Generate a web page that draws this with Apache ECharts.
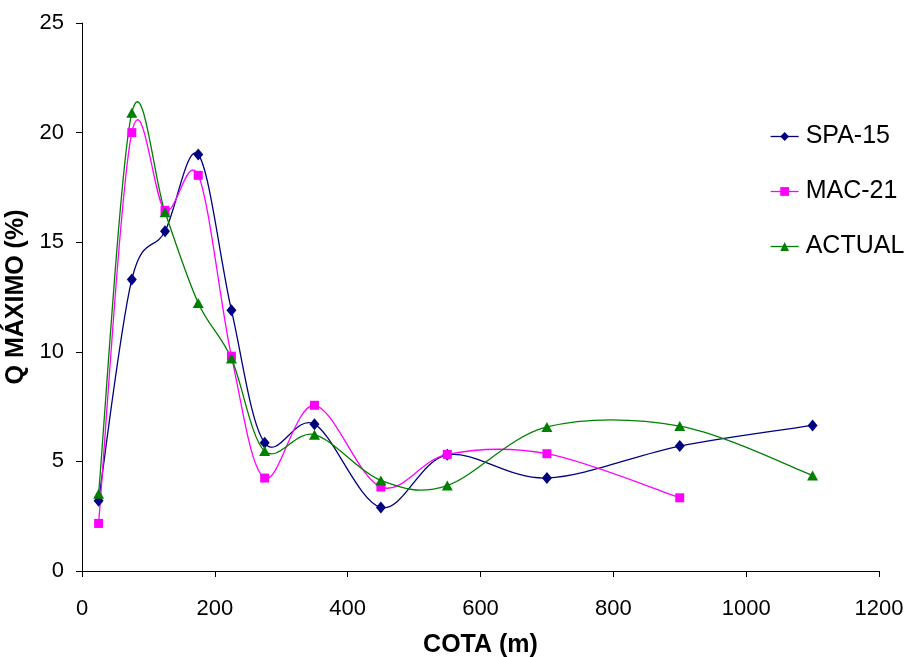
<!DOCTYPE html>
<html><head><meta charset="utf-8">
<script src="https://cdn.jsdelivr.net/npm/echarts@6/dist/echarts.min.js"></script>
<style>html,body{margin:0;padding:0;background:#fff}#c{width:907px;height:657px}</style>
</head><body><div id="c"></div>
<script>
var cota = [25, 75, 125, 175, 225, 275, 350, 450, 550, 700, 900, 1100];
var spa15 = [3.2, 13.3, 15.5, 19.0, 11.9, 5.85, 6.7, 2.9, 5.3, 4.24, 5.7, 6.64];
var mac21 = [2.17, 20.0, 16.45, 18.05, 9.8, 4.24, 7.56, 3.83, 5.32, 5.35, 3.34];
var actual = [3.52, 20.9, 16.37, 12.23, 9.69, 5.47, 6.22, 4.13, 3.9, 6.57, 6.61, 4.36];
var seriesNames = ['SPA-15', 'MAC-21', 'ACTUAL'];
var colors = ['#000080', '#FF00FF', '#008000'];
var symbols = ['diamond', 'rect', 'triangle'];
var symbolSizes = [[10, 12], 9, [11, 10]];
var allY = [spa15, mac21, actual];

function pairs(xs, ys){ return ys.map(function(v,i){ return [xs[i], v]; }); }

// Excel-like smoothed segments drawn through the axis scales (api.coord)
function curveSeries(ys, color){
  var segs = [];
  for (var i = 0; i < ys.length - 1; i++) segs.push([cota[i], ys[i]]);
  return {
    type: 'custom', silent: true, z: 1, data: segs, clip: false,
    renderItem: function(params, api){
      var i = params.dataIndex, n = ys.length;
      function P(k){ k = Math.max(0, Math.min(n - 1, k)); return api.coord([cota[k], ys[k]]); }
      var p0 = P(i - 1), p1 = P(i), p2 = P(i + 1), p3 = P(i + 2);
      var t = 1 / 6;
      return {
        type: 'bezierCurve',
        shape: {
          x1: p1[0], y1: p1[1], x2: p2[0], y2: p2[1],
          cpx1: p1[0] + (p2[0] - p0[0]) * t, cpy1: p1[1] + (p2[1] - p0[1]) * t,
          cpx2: p2[0] - (p3[0] - p1[0]) * t, cpy2: p2[1] - (p3[1] - p1[1]) * t
        },
        style: {stroke: color, fill: null, lineWidth: 1.3}
      };
    }
  };
}

var font = 'Liberation Sans, Arial, sans-serif';
var series = [];
allY.forEach(function(ys, k){ series.push(curveSeries(ys, colors[k])); });
allY.forEach(function(ys, k){
  series.push({
    name: seriesNames[k], type: 'line', z: 3, data: pairs(cota, ys),
    symbol: symbols[k], symbolSize: symbolSizes[k], color: colors[k],
    lineStyle: {width: 1.3, color: colors[k], opacity: 0},
    itemStyle: {color: colors[k]}
  });
});

var chart = echarts.init(document.getElementById('c'));
chart.setOption({
  animation: false,
  backgroundColor: '#fff',
  grid: {left: 82, right: 28, top: 23, bottom: 86, containLabel: false, outerBoundsMode: 'none'},
  legend: {
    orient: 'vertical', left: 765, top: 119, itemGap: 30,
    itemWidth: 28, itemHeight: 11,
    lineStyle: {opacity: 1, width: 1.3},
    textStyle: {fontFamily: font, fontSize: 25, color: '#000', padding: [0, 0, 0, 2]},
    data: seriesNames
  },
  xAxis: {
    type: 'value', min: 0, max: 1200, interval: 200,
    name: 'COTA (m)', nameLocation: 'middle', nameGap: 62,
    nameTextStyle: {fontFamily: font, fontSize: 25, fontWeight: 'bold', color: '#000'},
    axisLine: {lineStyle: {color: '#000', width: 1}},
    axisTick: {show: true, length: 6, lineStyle: {color: '#000'}},
    axisLabel: {fontFamily: font, fontSize: 22, color: '#000', margin: 27,
      formatter: function(v){ return String(v); }},
    splitLine: {show: false}
  },
  yAxis: {
    type: 'value', min: 0, max: 25, interval: 5,
    name: 'Q MÁXIMO (%)', nameLocation: 'middle', nameGap: 43,
    nameTextStyle: {fontFamily: font, fontSize: 25, fontWeight: 'bold', color: '#000'},
    axisLine: {show: true, lineStyle: {color: '#000', width: 1}},
    axisTick: {show: true, length: 6, lineStyle: {color: '#000'}},
    axisLabel: {fontFamily: font, fontSize: 22, color: '#000', margin: 18},
    splitLine: {show: false}
  },
  series: series
});
</script></body></html>
